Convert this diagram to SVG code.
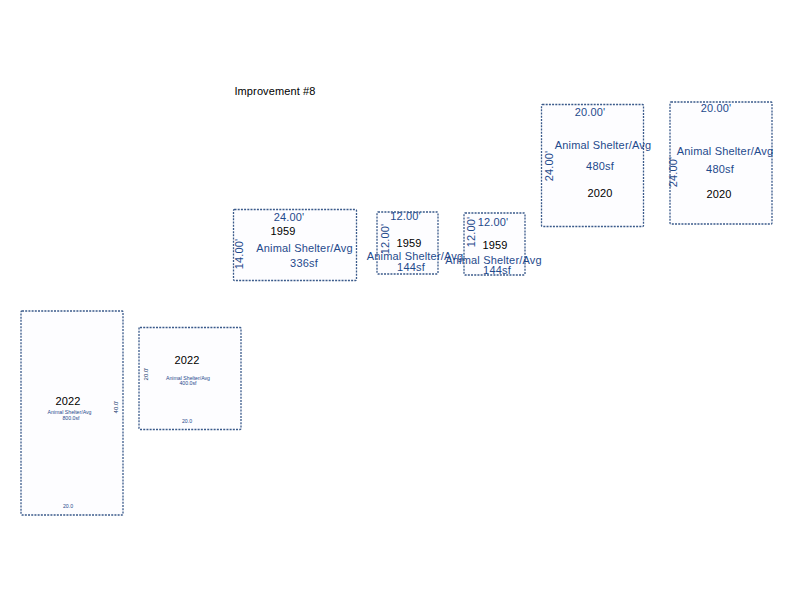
<svg xmlns="http://www.w3.org/2000/svg" width="800" height="600" viewBox="0 0 800 600">
<style>
text{font-family:"Liberation Sans",Arial,sans-serif;text-anchor:middle}
.b{fill:#fdfdff;stroke:#3a5a8a;stroke-width:1.3;stroke-dasharray:2 1.2}
.t{fill:#1f4a8c;font-size:11px;letter-spacing:.17px}
.y{fill:#000;font-size:11px;letter-spacing:.1px}
.s{fill:#1f4a8c;font-size:5.2px}
.v{fill:#12336b;font-size:6px}
</style>
<rect width="800" height="600" fill="#fff"/>
<text x="275" y="95" style="font-size:11px;fill:#000;letter-spacing:.12px">Improvement #8</text>
<g id="n1"><rect class="b" x="233.500" y="209.500" width="123" height="71" rx="1"/>
<text class="t" x="289" y="221">24.00'</text><text class="y" x="283" y="235">1959</text><text class="t" x="304.500" y="252">Animal Shelter/Avg</text><text class="t" x="304" y="267">336sf</text><text class="t" transform="translate(243,254) rotate(-90)">14.00'</text></g>
<g id="n2"><rect class="b" x="377" y="212" width="61" height="62" rx="1"/>
<text class="t" x="405.500" y="220">12.00'</text><text class="y" x="409" y="247">1959</text><text class="t" x="415" y="260">Animal Shelter/Avg</text><text class="t" x="411" y="271">144sf</text><text class="t" transform="translate(389,239) rotate(-90)">12.00'</text></g>
<g id="n3"><rect class="b" x="464" y="213" width="61" height="62" rx="1"/>
<text class="t" x="493" y="226">12.00'</text><text class="y" x="495" y="249">1959</text><text class="t" x="493.500" y="264">Animal Shelter/Avg</text><text class="t" x="497" y="274">144sf</text><text class="t" transform="translate(475,232) rotate(-90)">12.00'</text></g>
<g id="n4"><rect class="b" x="541.500" y="104.500" width="102" height="122" rx="1"/>
<text class="t" x="590" y="116">20.00'</text><text class="t" x="603" y="149">Animal Shelter/Avg</text><text class="t" x="600" y="170">480sf</text><text class="y" x="600" y="197">2020</text><text class="t" transform="translate(553,166) rotate(-90)">24.00'</text></g>
<g id="n5"><rect class="b" x="670" y="102" width="102" height="122" rx="1"/>
<text class="t" x="716" y="112">20.00'</text><text class="t" x="725" y="155">Animal Shelter/Avg</text><text class="t" x="720" y="173">480sf</text><text class="y" x="719" y="198">2020</text><text class="t" transform="translate(677,172) rotate(-90)">24.00'</text></g>
<g id="n6"><rect class="b" x="21" y="311" width="102" height="204" rx="1"/>
<text class="y" x="68" y="405">2022</text><text class="s" x="69.500" y="414">Animal Shelter/Avg</text><text class="s" x="71" y="420">800.0sf</text><text class="s" x="68" y="508">20.0</text><text class="v" transform="translate(118,407) rotate(-90)">40.0'</text></g>
<g id="n7"><rect class="b" x="139" y="327.500" width="102" height="102" rx="1"/>
<text class="y" x="187" y="364">2022</text><text class="s" x="188" y="380">Animal Shelter/Avg</text><text class="s" x="188" y="385">400.0sf</text><text class="s" x="187" y="423">20.0</text><text class="v" transform="translate(148,374) rotate(-90)">20.0'</text></g>
</svg>
